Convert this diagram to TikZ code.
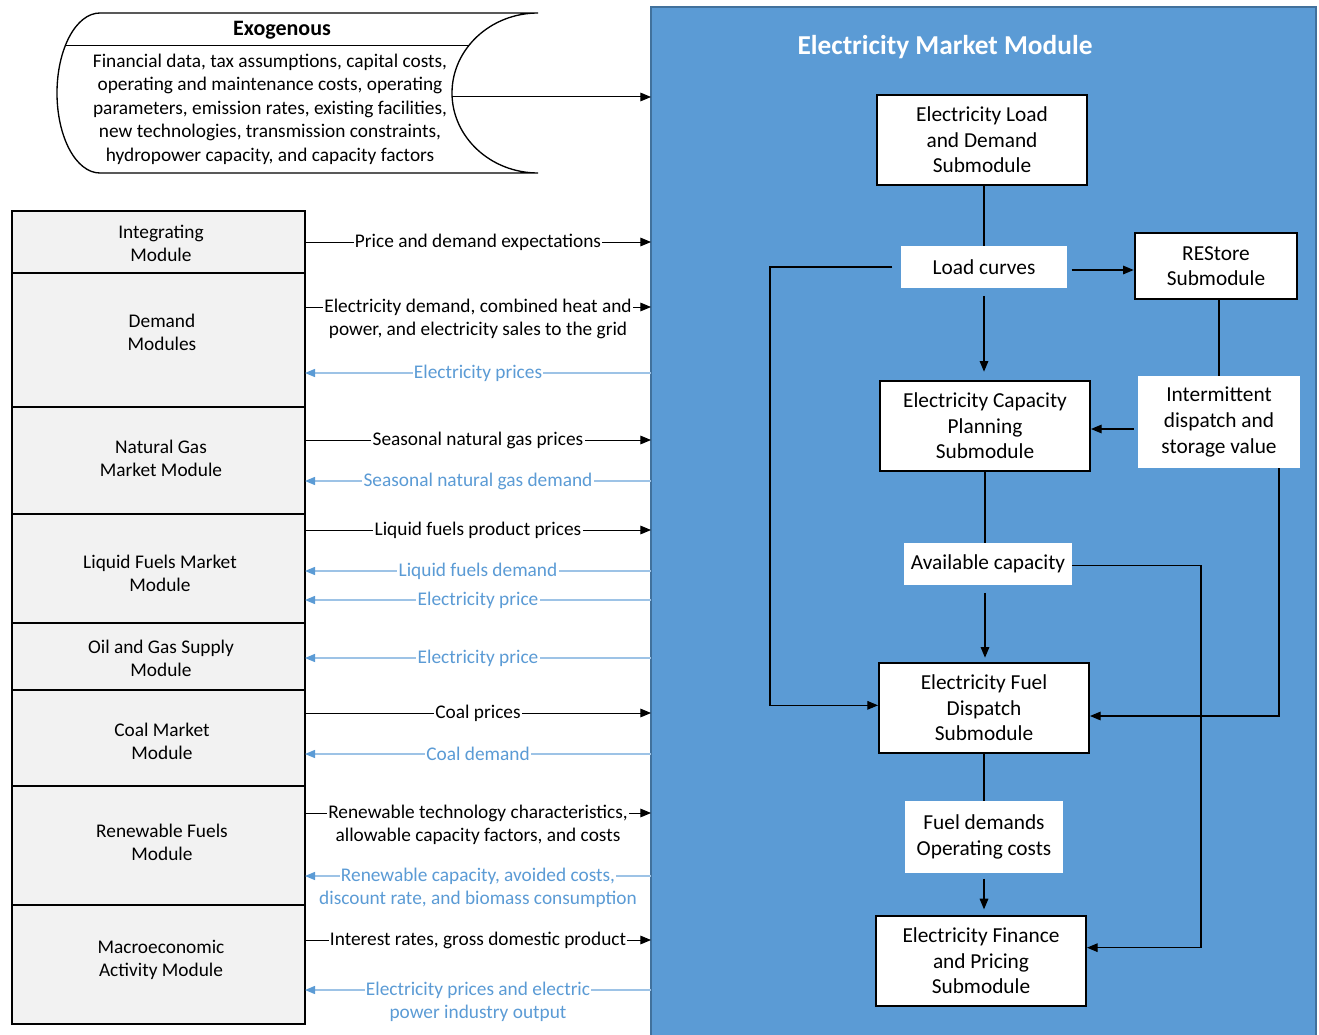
\documentclass[tikz,border=0pt]{standalone}
\usepackage{fontspec}
\setmainfont{Carlito}
\usepackage{tikz}
\usepackage{xcolor}
\usetikzlibrary{arrows.meta}

\definecolor{panelfill}{RGB}{91,155,213}
\definecolor{paneledge}{RGB}{65,113,156}
\definecolor{backblue}{RGB}{91,155,213}
\definecolor{backline}{RGB}{157,195,230}
\definecolor{stackfill}{RGB}{242,242,242}

\tikzset{
  feed/.style={line width=0.75pt, -{Triangle[length=8pt,width=6.5pt]}},
  back/.style={line width=1pt, draw=backline, -{Triangle[length=7.5pt,width=6pt,color=backblue]}},
  flowtext/.style={fill=white, inner sep=1pt, font=\fontsize{14.5}{17.6}\selectfont, align=center},
  backtext/.style={flowtext, text=backblue},
  modtext/.style={font=\fontsize{14.5}{17.3}\selectfont, align=center},
  submod/.style={draw, line width=1.5pt, fill=white, align=center, inner sep=0pt, font=\fontsize{16}{19.2}\selectfont, minimum width=157.5pt, minimum height=68pt},
  tag/.style={fill=white, align=center, inner sep=0pt, font=\fontsize{16}{19.2}\selectfont},
  wire/.style={line width=0.8pt},
  wirearrow/.style={wire, -{Triangle[length=8pt,width=6.5pt]}},
  sepline/.style={line width=1pt},
}

\begin{document}
\begin{tikzpicture}[x=0.75pt,y=0.75pt,yscale=-1]
\useasboundingbox (0,0) rectangle (1319,1034);

%Shape: Rectangle [panel]
\node[draw=paneledge, line width=1.5pt, fill=panelfill, anchor=north west, inner sep=0pt, outer sep=0pt, minimum width=498.75pt, minimum height=780pt] (panel) at (651,7) {};
% Text Node
\node[text=white, font=\bfseries\fontsize{20.5}{24}\selectfont] (title) at (945,47) {Electricity Market Module};

%Shape: Exogenous
\draw[line width=1pt] (538,13) -- (100,13) .. controls (76,13) and (57,49) .. (57,93) .. controls (57,137) and (76,173) .. (100,173) -- (538,173) .. controls (490.5,173) and (452,137) .. (452,93) .. controls (452,49) and (490.5,13) .. (538,13);
\draw[line width=0.75pt] (65,46) -- (468,46);
% Text Node
\node[font=\bfseries\fontsize{16.5}{20}\selectfont] (exotitle) at (282,30) {Exogenous};
% Text Node
\node[flowtext, fill=none] (exobody) at (270,109) {Financial data, tax assumptions, capital costs,\\operating and maintenance costs, operating\\parameters, emission rates, existing facilities,\\new technologies, transmission constraints,\\hydropower capacity, and capacity factors};
\coordinate (exoR) at (452.5,97);
\draw[feed] (exoR) -- (panel.west |- exoR);

%Shape: Rectangle [stack]
\node[draw, line width=1.5pt, fill=stackfill, anchor=north west, inner sep=0pt, outer sep=0pt, minimum width=219.75pt, minimum height=609.75pt] (stack) at (12,211) {};
\draw[sepline] (stack.west |- 0,273) -- (stack.east |- 0,273);
\draw[sepline] (stack.west |- 0,407) -- (stack.east |- 0,407);
\draw[sepline] (stack.west |- 0,514) -- (stack.east |- 0,514);
\draw[sepline] (stack.west |- 0,623) -- (stack.east |- 0,623);
\draw[sepline] (stack.west |- 0,690) -- (stack.east |- 0,690);
\draw[sepline] (stack.west |- 0,786) -- (stack.east |- 0,786);
\draw[sepline] (stack.west |- 0,905) -- (stack.east |- 0,905);

% Text Node
\node[modtext] (integ) at (161,243) {Integrating\\Module};
\node[modtext] (demand) at (162,332) {Demand\\Modules};
\node[modtext] (natgas) at (161,458) {Natural Gas\\Market Module};
\node[modtext] (liquids) at (160,573) {Liquid Fuels Market\\Module};
\node[modtext] (oilgas) at (161,658) {Oil and Gas Supply\\Module};
\node[modtext] (coal) at (162,741) {Coal Market\\Module};
\node[modtext] (renew) at (162,842) {Renewable Fuels\\Module};
\node[modtext] (macro) at (161,960) {Macroeconomic\\Activity Module};

%Straight Lines [flows]
\draw[feed] (stack.east |- 0,242) -- node[flowtext] (f1) {Price and demand expectations} (panel.west |- 0,242);
\draw[feed] (stack.east |- 0,307) -- node[flowtext] (f2) {Electricity demand, combined heat and} (panel.west |- 0,307);
\node[flowtext, fill=none, anchor=base] (f2b) at ([yshift=17.6pt]f2.base) {power, and electricity sales to the grid};
\draw[back] (panel.west |- 0,373) -- node[backtext] (b1) {Electricity prices} (stack.east |- 0,373);
\draw[feed] (stack.east |- 0,440) -- node[flowtext] (f3) {Seasonal natural gas prices} (panel.west |- 0,440);
\draw[back] (panel.west |- 0,481) -- node[backtext] (b2) {Seasonal natural gas demand} (stack.east |- 0,481);
\draw[feed] (stack.east |- 0,530) -- node[flowtext] (f4) {Liquid fuels product prices} (panel.west |- 0,530);
\draw[back] (panel.west |- 0,571) -- node[backtext] (b3) {Liquid fuels demand} (stack.east |- 0,571);
\draw[back] (panel.west |- 0,600) -- node[backtext] (b4) {Electricity price} (stack.east |- 0,600);
\draw[back] (panel.west |- 0,658) -- node[backtext] (b5) {Electricity price} (stack.east |- 0,658);
\draw[feed] (stack.east |- 0,713) -- node[flowtext] (f5) {Coal prices} (panel.west |- 0,713);
\draw[back] (panel.west |- 0,754) -- node[backtext] (b6) {Coal demand} (stack.east |- 0,754);
\draw[feed] (stack.east |- 0,813) -- node[flowtext] (f6) {Renewable technology characteristics,} (panel.west |- 0,813);
\node[flowtext, fill=none, anchor=base] (f6b) at ([yshift=17.6pt]f6.base) {allowable capacity factors, and costs};
\draw[back] (panel.west |- 0,876) -- node[backtext] (b7) {Renewable capacity, avoided costs,} (stack.east |- 0,876);
\node[backtext, fill=none, anchor=base] (b7b) at ([yshift=17.6pt]b7.base) {discount rate, and biomass consumption};
\draw[feed] (stack.east |- 0,940) -- node[flowtext] (f7) {Interest rates, gross domestic product} (panel.west |- 0,940);
\draw[back] (panel.west |- 0,990) -- node[backtext] (b8) {Electricity prices and electric} (stack.east |- 0,990);
\node[backtext, fill=none, anchor=base] (b8b) at ([yshift=17.6pt]b8.base) {power industry output};

%Shape: Submodules
\node[submod] (load) at (982,140) {Electricity Load\\and Demand\\Submodule};
\node[tag, minimum width=125pt, minimum height=31pt] (curves) at (984,267) {Load curves};
\node[submod, minimum width=122pt, minimum height=49.5pt] (restore) at (1216,266) {REStore\\Submodule};
\node[submod] (capacity) at (985,426) {Electricity Capacity\\Planning\\Submodule};
\node[tag, minimum width=121.5pt, minimum height=69pt] (intermit) at (1219,422) {Intermittent\\dispatch and\\storage value};
\node[tag, minimum width=126pt, minimum height=31pt] (avail) at (988,564) {Available capacity};
\node[submod] (dispatch) at (984,708) {Electricity Fuel\\Dispatch\\Submodule};
\node[tag, minimum width=119pt, minimum height=54pt] (fueldem) at (984,837) {Fuel demands\\Operating costs};
\node[submod] (finance) at (981,961) {Electricity Finance\\and Pricing\\Submodule};

\coordinate (loopL) at (770,0);
\coordinate (loopR) at (1279,0);
\coordinate (loopF) at (1201,0);

%Straight Lines [panel links]
\draw[wire] (load.south -| curves.north) -- (curves.north);
\draw[wirearrow, shorten <=6pt, shorten >=6pt] (curves.south) -- (curves.south |- capacity.north);
\draw[wirearrow, shorten <=3pt] (curves.east |- 0,270) -- (restore.west |- 0,270);
\draw[wirearrow, shorten <=6pt] (curves.west) -- (curves.west -| loopL) |- ([yshift=-2pt]dispatch.west);
\draw[wire] (restore.south -| intermit.north) -- (intermit.north);
\draw[wirearrow, shorten <=3pt] (intermit.west |- 0,429) -- (capacity.east |- 0,429);
\draw[wirearrow] (intermit.south -| loopR) |- ([yshift=6pt]dispatch.east);
\draw[wire] (capacity.south) -- (capacity.south |- avail.north);
\draw[wirearrow, shorten <=6pt, shorten >=3pt] (avail.south -| capacity.south) -- (dispatch.north -| capacity.south);
\draw[wirearrow] ([yshift=1pt]avail.east) -- ([yshift=1pt]avail.east -| loopF) |- ([yshift=-10pt]finance.east);
\draw[wire] (dispatch.south) -- (fueldem.north);
\draw[wirearrow, shorten <=4pt, shorten >=4pt] (fueldem.south) -- (finance.north -| fueldem.south);

\end{tikzpicture}
\end{document}
